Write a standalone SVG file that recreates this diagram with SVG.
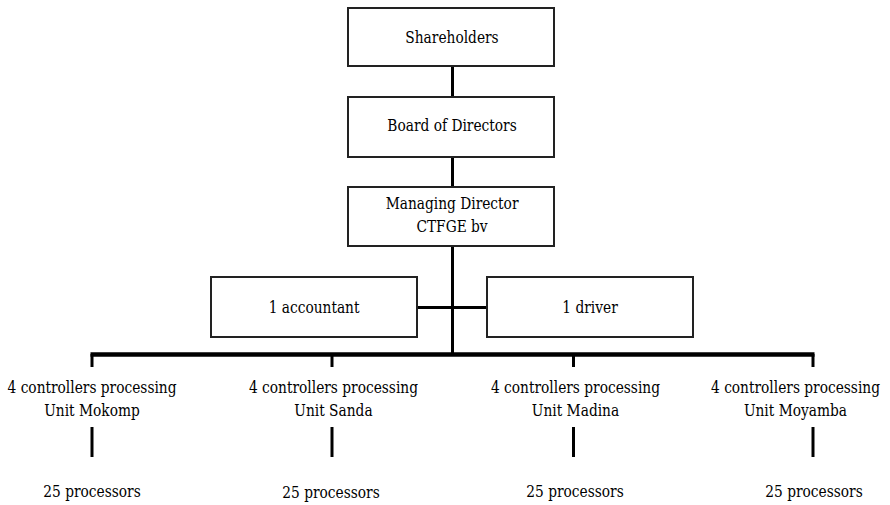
<svg xmlns="http://www.w3.org/2000/svg" width="890" height="505" viewBox="0 0 890 505">
<style>
.box{fill:#fff;stroke:#222;stroke-width:2}
.t{font-family:'DejaVu Serif','Liberation Serif',serif;font-size:17px;fill:#000;text-anchor:middle;transform-box:fill-box;transform-origin:center;transform:scaleX(0.81)}
.c{stroke:#000;stroke-width:3;fill:none}
.bar{stroke:#000;stroke-width:4.5;fill:none}
</style>
<rect width="890" height="505" fill="#fff"/>
<g id="connectors">
<line class="c" x1="452.5" y1="66" x2="452.5" y2="97"/>
<line class="c" x1="452.5" y1="157" x2="452.5" y2="187"/>
<line class="c" x1="452.5" y1="246" x2="452.5" y2="354"/>
<line class="c" x1="417" y1="307.5" x2="487" y2="307.5"/>
<line class="bar" x1="90.5" y1="354.5" x2="814.5" y2="354.5"/>
<line class="c" x1="92" y1="354" x2="92" y2="367"/>
<line class="c" x1="332" y1="354" x2="332" y2="367"/>
<line class="c" x1="573.5" y1="354" x2="573.5" y2="367"/>
<line class="c" x1="813" y1="354" x2="813" y2="367"/>
<line class="c" x1="92" y1="427" x2="92" y2="457"/>
<line class="c" x1="332" y1="427" x2="332" y2="457"/>
<line class="c" x1="573.5" y1="427" x2="573.5" y2="457"/>
<line class="c" x1="813" y1="427" x2="813" y2="457"/>
</g>
<g id="shareholders"><rect class="box" x="348" y="8" width="206" height="58"/><text class="t" x="452" y="43">Shareholders</text></g>
<g id="board"><rect class="box" x="348" y="97" width="206" height="60"/><text class="t" x="452" y="131">Board of Directors</text></g>
<g id="md"><rect class="box" x="348" y="187" width="206" height="59"/><text class="t" x="452" y="209">Managing Director</text><text class="t" x="452" y="232">CTFGE bv</text></g>
<g id="accountant"><rect class="box" x="211" y="277" width="206" height="60"/><text class="t" x="314" y="313">1 accountant</text></g>
<g id="driver"><rect class="box" x="487" y="277" width="206" height="60"/><text class="t" x="590" y="313">1 driver</text></g>
<g id="mokomp"><text class="t" x="92" y="393">4 controllers processing</text><text class="t" x="92" y="416">Unit Mokomp</text></g>
<g id="sanda"><text class="t" x="333.5" y="393">4 controllers processing</text><text class="t" x="333.5" y="416">Unit Sanda</text></g>
<g id="madina"><text class="t" x="575.5" y="393">4 controllers processing</text><text class="t" x="575.5" y="416">Unit Madina</text></g>
<g id="moyamba"><text class="t" x="795.5" y="393">4 controllers processing</text><text class="t" x="795.5" y="416">Unit Moyamba</text></g>
<g id="p1"><text class="t" x="92" y="497">25 processors</text></g>
<g id="p2"><text class="t" x="331" y="498">25 processors</text></g>
<g id="p3"><text class="t" x="575" y="497">25 processors</text></g>
<g id="p4"><text class="t" x="814" y="497">25 processors</text></g>
</svg>
